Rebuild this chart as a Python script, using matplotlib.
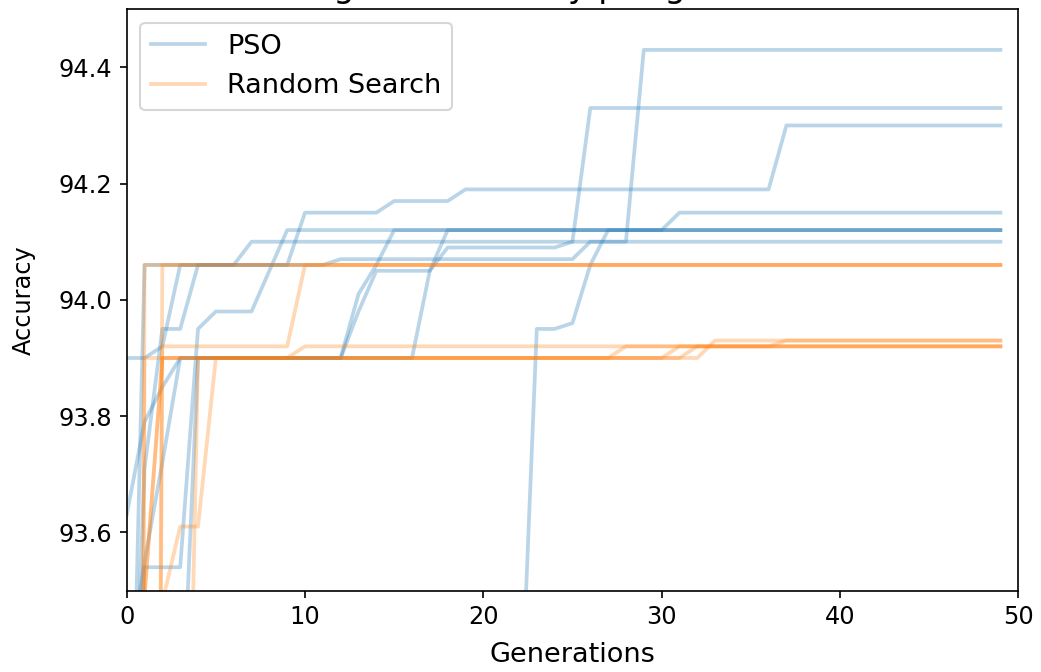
import matplotlib
matplotlib.use("Agg")
import matplotlib.pyplot as plt

generations = list(range(50))

# PSO runs: best accuracy found so far at each generation
pso_runs = [
    [92.8] + [94.06]*9 + [94.15]*5 + [94.17]*4 + [94.19]*18 + [94.30]*13,
    [93.90, 93.90, 93.92] + [94.06]*4 + [94.10]*43,
    [93.0] + [93.54]*3 + [93.95] + [93.98]*3 + [94.05] + [94.12]*41,
    [93.63, 93.79, 93.85] + [93.90]*10 + [93.98] + [94.05]*4 + [94.12]*32,
    [93.35, 93.55, 93.72] + [93.90]*14 + [94.05] + [94.09]*7 + [94.10] + [94.33]*24,
    [92.0, 92.5, 92.8, 93.2] + [93.90]*9 + [94.01] + [94.06] + [94.12]*16 + [94.15]*19,
    [92.9, 93.71] + [93.95]*2 + [94.06]*8 + [94.07]*14 + [94.10]*3 + [94.43]*21,
    [90.6]*5 + [91.4]*6 + [92.3]*6 + [93.2]*6 + [93.95]*2 + [93.96] + [94.06] + [94.12]*23,
]

# Random Search runs
random_runs = [
    [86.0] + [94.06]*49,
    [87.5, 88.5] + [94.06]*48,
    [87.0, 88.5] + [93.92]*8 + [94.06]*40,
    [91.5, 92.0, 92.2, 92.4] + [93.90]*6 + [93.92]*27 + [93.93]*13,
    [86.5] + [93.90]*27 + [93.92]*22,
    [88.0, 93.49] + [93.90]*29 + [93.92]*19,
    [92.0, 92.9, 93.48] + [93.61]*2 + [93.90]*27 + [93.92]*18,
    [87.0, 93.49] + [93.90]*31 + [93.93]*17,
]

series_labels = ["PSO", "Random Search"]
title_text = "Highest accuracy per generation"

fig = plt.figure(figsize=(1041/150, 672/150), dpi=150)
ax = fig.add_axes([126.7/1041, 1 - 590.5/672, (1018.2 - 126.7)/1041, (590.5 - 9.2)/672])

for i, run in enumerate(pso_runs):
    ax.plot(generations, run, color="C0", alpha=0.3, lw=1.8,
            label=series_labels[0] if i == 0 else None)
for i, run in enumerate(random_runs):
    ax.plot(generations, run, color="C1", alpha=0.3, lw=1.8,
            label=series_labels[1] if i == 0 else None)

ax.set_xlim(0, 50)
ax.set_ylim(93.5, 94.5)
ax.set_xticks([0, 10, 20, 30, 40, 50])
ax.set_yticks([93.6, 93.8, 94.0, 94.2, 94.4])
ax.tick_params(labelsize=11.5)
ax.set_xlabel("Generations", fontsize=13, labelpad=6)
ax.set_ylabel("Accuracy", fontsize=11.5, labelpad=11)
ax.set_title(title_text, fontsize=16)
ax.legend(loc="upper left", fontsize=13)

fig.savefig("out.png", dpi=150)
